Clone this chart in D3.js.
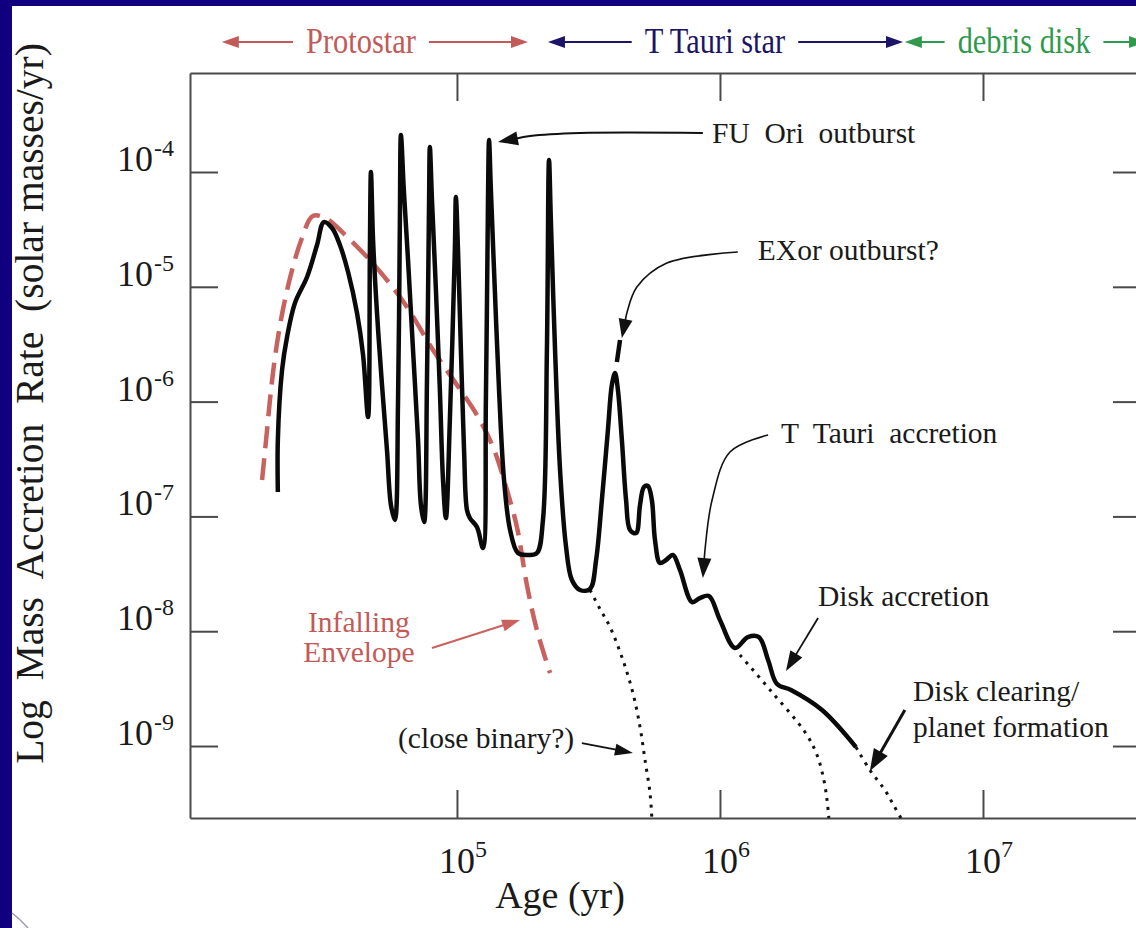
<!DOCTYPE html>
<html><head><meta charset="utf-8">
<script src="https://cdn.jsdelivr.net/npm/d3@7"></script>
<style>html,body{margin:0;padding:0;background:#100080;} svg{display:block} text{font-family:"Liberation Serif","Times New Roman",serif;white-space:pre;}</style>
</head><body><svg id="c" width="1136" height="928"></svg>
<script>
// ---------- data (log10 age [yr], log10 rate [Msun/yr]) ----------
const xTickExp = [5, 6, 7];
const yTickExp = [-4, -5, -6, -7, -8, -9];

const phaseNames = ["Protostar", "T Tauri star", "debris disk"];
const phaseStart = [4.106, 5.346, 6.703];
const phaseEnd = [5.270, 6.696, 7.62];
const phaseLabelAt = [4.635, 5.981, 7.156];
const phaseColors = ["#c25a58", "#1c1466", "#2f9a4c"];

const accretionCurve = [
  [4.319,-6.787],[4.319,-6.334],[4.335,-5.725],[4.354,-5.437],[4.384,-5.141],[4.430,-4.915],
  [4.468,-4.636],[4.494,-4.436],[4.525,-4.488],[4.555,-4.636],[4.586,-4.871],[4.620,-5.228],
  [4.643,-5.594],[4.662,-6.134],[4.669,-4.679],[4.673,-4.000],[4.681,-4.592],[4.696,-5.228],
  [4.715,-5.855],[4.734,-6.422],[4.749,-6.901],[4.764,-7.031],[4.776,-5.986],[4.783,-4.418],
  [4.787,-3.678],[4.798,-4.157],[4.814,-4.767],[4.833,-5.551],[4.852,-6.334],[4.863,-6.901],
  [4.875,-7.049],[4.886,-5.812],[4.894,-4.244],[4.897,-3.782],[4.905,-4.244],[4.920,-5.028],
  [4.935,-5.899],[4.947,-6.683],[4.958,-7.014],[4.973,-6.160],[4.992,-4.679],[4.996,-4.218],
  [5.004,-4.679],[5.015,-5.551],[5.027,-6.422],[5.038,-6.944],[5.049,-7.014],[5.076,-7.092],
  [5.099,-7.275],[5.110,-5.986],[5.118,-4.244],[5.122,-3.721],[5.129,-4.157],[5.144,-5.028],
  [5.160,-5.899],[5.179,-6.683],[5.202,-7.118],[5.232,-7.319],[5.270,-7.336],[5.304,-7.319],
  [5.327,-7.031],[5.342,-5.551],[5.350,-3.895],[5.357,-4.418],[5.373,-5.551],[5.392,-6.596],
  [5.414,-7.249],[5.437,-7.554],[5.468,-7.641],[5.506,-7.632],[5.529,-7.380],[5.551,-6.857],
  [5.574,-6.247],[5.589,-5.855],[5.601,-5.751],[5.612,-5.899],[5.627,-6.334],[5.643,-6.857],
  [5.658,-7.118],[5.681,-7.145],[5.696,-6.901],[5.711,-6.744],[5.726,-6.735],[5.741,-6.857],
  [5.753,-7.206],[5.772,-7.406],[5.795,-7.380],[5.821,-7.336],[5.848,-7.467],[5.894,-7.746],
  [5.924,-7.711],[5.958,-7.693],[6.000,-7.902],[6.057,-8.146],[6.106,-8.051],[6.148,-8.051],
  [6.183,-8.251],[6.217,-8.460],[6.270,-8.512],[6.388,-8.686],[6.517,-9.009]
];
const exorDash = [[5.608,-5.655],[5.620,-5.463]];

const envelopeCurve = [
  [4.259,-6.683],[4.278,-6.247],[4.293,-5.899],[4.312,-5.551],[4.338,-5.202],[4.373,-4.854],
  [4.411,-4.575],[4.452,-4.383],[4.506,-4.409],[4.567,-4.531],[4.658,-4.740],[4.734,-4.941],
  [4.810,-5.176],[4.909,-5.551],[5.000,-5.855],[5.076,-6.117],[5.137,-6.395],[5.190,-6.770],
  [5.228,-7.092],[5.266,-7.598],[5.304,-7.990],[5.354,-8.364]
];

const binaryDrop = [[5.506,-7.641],[5.544,-7.807],[5.582,-7.963],[5.631,-8.251],[5.669,-8.538],
  [5.696,-8.834],[5.715,-9.122],[5.734,-9.409],[5.741,-9.627]];
const diskDrop = [[6.076,-8.207],[6.194,-8.521],[6.323,-8.878],[6.369,-9.078],[6.395,-9.296],
  [6.407,-9.470],[6.414,-9.627]];
const clearingDrop = [[6.517,-9.009],[6.570,-9.209],[6.627,-9.383],[6.662,-9.523],[6.688,-9.627]];

// annotations
const noteLabels = ["FU  Ori  outburst", "EXor outburst?", "T  Tauri  accretion", "Disk accretion",
  "Disk clearing/", "planet formation", "(close binary?)"];
const notePos = [[5.970,-3.747],[6.144,-4.767],[6.232,-6.361],[6.373,-7.780],[6.734,-8.608],[6.734,-8.922],[4.776,-9.017]];
const envelopeLabel = ["Infalling", "Envelope"];
const envelopeLabelPos = [[4.627,-8.007],[4.627,-8.268]];
const xTitleAt = 5.392;

const fuArrow = [[5.935,-3.660],[5.468,-3.660],[5.278,-3.686],[5.156,-3.739]];
const exorArrow = [[6.068,-4.697],[5.798,-4.793],[5.684,-5.002],[5.646,-5.228],[5.627,-5.446]];
const tTauriArrow = [[6.183,-6.291],[6.038,-6.439],[5.970,-6.857],[5.943,-7.293],[5.935,-7.537]];
const diskAccArrow = [[6.373,-7.885],[6.251,-8.347]];
const diskClearArrow = [[6.703,-8.686],[6.570,-9.218]];
const binaryArrow = [[5.475,-8.974],[5.669,-9.061]];
const envelopeArrow = [[4.905,-8.146],[5.240,-7.902]];

// ---------- drawing ----------
const W = 1136, H = 928;
const svg = d3.select("#c");
svg.append("rect").attr("width", W).attr("height", H).attr("fill", "#100080");
svg.append("rect").attr("x", 12).attr("y", 6).attr("width", W - 12).attr("height", H - 6).attr("fill", "#fff");
svg.append("path").attr("d", "M12,913 Q20,919 28,928").attr("fill", "none").attr("stroke", "#9a9ab0").attr("stroke-width", 1.5);

const plot = {left: 190, right: 1140, top: 73, bottom: 818};
const x = d3.scaleLog().domain([10 ** 3.985, 10 ** 7.597]).range([plot.left, plot.right]);
const y = d3.scaleLog().domain([10 ** -9.627, 10 ** -3.1376]).range([plot.bottom, plot.top]);
const P = d => [x(10 ** d[0]), y(10 ** d[1])];

const axisColor = "#4a4a4a";
function styleAxis(g) {
  g.selectAll("path,line").attr("stroke", axisColor).attr("stroke-width", 2);
  g.selectAll("text").remove();
}
const xt = xTickExp.map(e => 10 ** e), yt = yTickExp.map(e => 10 ** e);
svg.append("g").attr("transform", `translate(0,${plot.bottom})`)
  .call(d3.axisBottom(x).tickValues(xt).tickSizeInner(-28).tickSizeOuter(0)).call(styleAxis);
svg.append("g").attr("transform", `translate(0,${plot.top})`)
  .call(d3.axisTop(x).tickValues(xt).tickSizeInner(-28).tickSizeOuter(0)).call(styleAxis);
svg.append("g").attr("transform", `translate(${plot.left},0)`)
  .call(d3.axisLeft(y).tickValues(yt).tickSizeInner(-28).tickSizeOuter(0)).call(styleAxis);
svg.append("g").attr("transform", `translate(${plot.right},0)`)
  .call(d3.axisRight(y).tickValues(yt).tickSizeInner(-27).tickSizeOuter(0)).call(styleAxis);

// tick labels
const labG = svg.append("g").attr("fill", "#1a1a1a");
xTickExp.forEach(e => {
  const cx = x(10 ** e);
  labG.append("text").attr("x", cx).attr("y", 873).attr("text-anchor", "middle").attr("font-size", 36).text("10");
  labG.append("text").attr("x", cx + 18).attr("y", 857).attr("font-size", 24).text(e);
});
yTickExp.forEach(e => {
  const cy = y(10 ** e);
  labG.append("text").attr("x", 153).attr("y", cy - 1).attr("text-anchor", "end").attr("font-size", 36).text("10");
  labG.append("text").attr("x", 154).attr("y", cy - 16).attr("font-size", 24).text(e);
});
labG.append("text").attr("x", x(10 ** xTitleAt)).attr("y", 908).attr("text-anchor", "middle").attr("font-size", 38).text("Age (yr)");
labG.append("text").attr("transform", `translate(43,${(42+765)/2}) rotate(-90)`).attr("text-anchor", "middle")
  .attr("font-size", 39.5).text("Log  Mass  Accretion  Rate  (solar masses/yr)");

// arrowhead helper
function head(g, from, tip, len, hw, color) {
  const dx = tip[0] - from[0], dy = tip[1] - from[1], L = Math.hypot(dx, dy), ux = dx / L, uy = dy / L;
  const bx = tip[0] - ux * len, by = tip[1] - uy * len;
  g.append("path").attr("d", `M${tip[0]},${tip[1]}L${bx - uy * hw},${by + ux * hw}L${bx + uy * hw},${by - ux * hw}Z`).attr("fill", color);
  return [bx + ux * 2, by + uy * 2];
}
function arrow(g, data, len, hw, color, width) {
  const pts = data.map(P);
  const n = pts.length;
  const base = head(g, pts[n - 2], pts[n - 1], len, hw, color);
  const linePts = pts.slice(0, n - 1).concat([base]);
  g.append("path").attr("d", d3.line().curve(d3.curveCatmullRom.alpha(0.5))(linePts))
    .attr("fill", "none").attr("stroke", color).attr("stroke-width", width);
}

// header phases
const hdr = svg.append("g");
const hdrY = plot.top - 31;
const hdrSx = 0.87;
phaseNames.forEach((name, i) => {
  const c = phaseColors[i];
  const cx = x(10 ** phaseLabelAt[i]);
  const t = hdr.append("text").attr("transform", `translate(${cx},${hdrY + 11}) scale(${hdrSx},1)`).attr("text-anchor", "middle")
    .attr("font-size", 35).attr("fill", c).text(name);
  const w = t.node().getComputedTextLength() * hdrSx;
  const tx0 = cx - w / 2 - 13, tx1 = cx + w / 2 + 13;
  const xs = x(10 ** phaseStart[i]), xe = x(10 ** phaseEnd[i]);
  const b0 = head(hdr, [xs + 30, hdrY], [xs, hdrY], 17, 6, c);
  const b1 = head(hdr, [xe - 30, hdrY], [xe, hdrY], 17, 6, c);
  hdr.append("line").attr("x1", b0[0]).attr("x2", tx0).attr("y1", hdrY).attr("y2", hdrY).attr("stroke", c).attr("stroke-width", 2);
  hdr.append("line").attr("x1", tx1).attr("x2", b1[0]).attr("y1", hdrY).attr("y2", hdrY).attr("stroke", c).attr("stroke-width", 2);
});

// curves
const lineGen = d3.line().x(d => P(d)[0]).y(d => P(d)[1]).curve(d3.curveCatmullRom.alpha(0.5));
const curves = svg.append("g").attr("fill", "none").attr("stroke-linejoin", "round");
curves.append("path").attr("d", lineGen(envelopeCurve)).attr("stroke", "#c8625e").attr("stroke-width", 4.5)
  .attr("stroke-dasharray", "22,10");
[binaryDrop, diskDrop, clearingDrop].forEach(dd => {
  curves.append("path").attr("d", lineGen(dd)).attr("stroke", "#111").attr("stroke-width", 3).attr("stroke-dasharray", "3,6");
});
curves.append("path").attr("d", lineGen(accretionCurve)).attr("stroke", "#0a0a0a").attr("stroke-width", 4.5);
curves.append("path").attr("d", d3.line().x(d => P(d)[0]).y(d => P(d)[1])(exorDash)).attr("stroke", "#0a0a0a").attr("stroke-width", 4.5);

// annotations
const ann = svg.append("g");
noteLabels.forEach((t, i) => {
  const p = P(notePos[i]);
  ann.append("text").attr("x", p[0]).attr("y", p[1]).attr("font-size", 29.5).attr("fill", "#1a1a1a").text(t);
});
envelopeLabel.forEach((t, i) => {
  const p = P(envelopeLabelPos[i]);
  ann.append("text").attr("x", p[0]).attr("y", p[1]).attr("text-anchor", "middle").attr("font-size", 29.5).attr("fill", "#c25a58").text(t);
});
arrow(ann, fuArrow, 20, 7, "#111", 2);
arrow(ann, exorArrow, 19, 7, "#111", 1.6);
arrow(ann, tTauriArrow, 20, 7, "#111", 1.6);
arrow(ann, diskAccArrow, 20, 7, "#111", 1.8);
arrow(ann, diskClearArrow, 22, 8, "#111", 3);
arrow(ann, binaryArrow, 18, 6, "#111", 1.8);
arrow(ann, envelopeArrow, 18, 6, "#c8625e", 2);
</script></body></html>
